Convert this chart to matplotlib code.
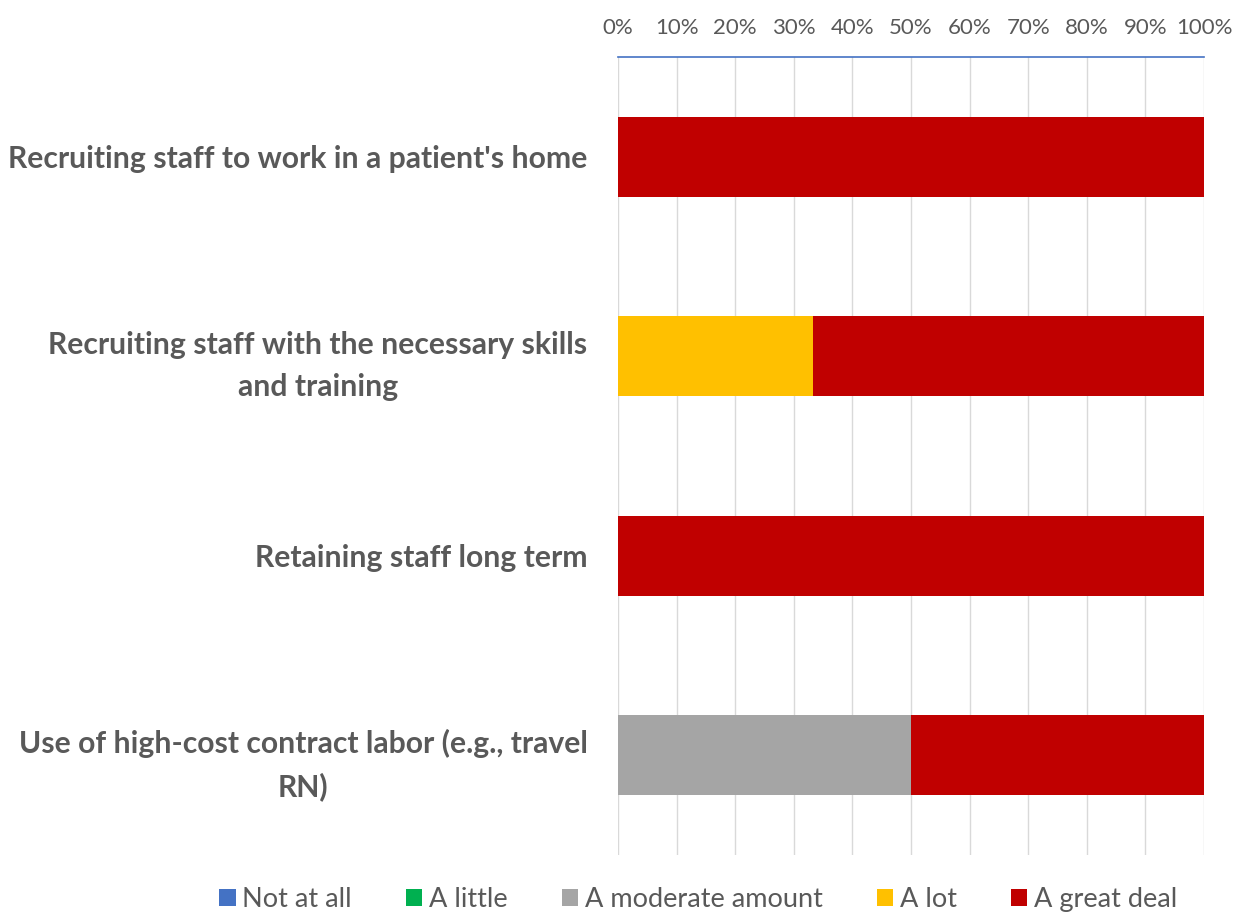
import numpy as np
import matplotlib.pyplot as plt

plt.rcParams['font.family'] = ['Lato', 'DejaVu Sans']

categories = ["Recruiting staff to work in a patient's home",
              "Recruiting staff with the necessary skills\nand training",
              "Retaining staff long term",
              "Use of high-cost contract labor (e.g., travel\nRN)"]
series = ['Not at all', 'A little', 'A moderate amount', 'A lot', 'A great deal']
values = {
    'Not at all':        [0, 0, 0, 0],
    'A little':          [0, 0, 0, 0],
    'A moderate amount': [0, 0, 0, 0.50],
    'A lot':             [0, 0.333, 0, 0],
    'A great deal':      [1.0, 0.667, 1.0, 0.50],
}
colors = ['#4472C4', '#00B050', '#A5A5A5', '#FFC000', '#C00000']

fig = plt.figure(figsize=(12.34, 9.16), dpi=100)
ax = fig.add_axes([0.5008, 0.0666, 0.4749, 0.8712])

y = np.arange(len(categories))
left = np.zeros(len(categories))
for name, c in zip(series, colors):
    v = np.array(values[name])
    ax.barh(y, v, left=left, height=0.4, color=c, label=name, zorder=3)
    left += v

ax.set_xlim(0, 1)
ax.set_ylim(3.5, -0.5)
ax.set_xticks(np.arange(0, 1.01, 0.1))
ax.set_xticklabels([f'{int(round(t*100))}%' for t in np.arange(0, 1.01, 0.1)])
ax.xaxis.tick_top()
ax.tick_params(axis='x', length=0, pad=14, labelsize=16, colors='#595959')
ax.set_yticks(y)
ax.set_yticklabels(categories, fontsize=21.7, fontweight='bold', color='#595959',
                   ha='right', multialignment='center', linespacing=1.6)
ax.tick_params(axis='y', length=0, pad=22)
ax.grid(axis='x', color='#D9D9D9', lw=1, zorder=0)
for s in ['left', 'right', 'bottom']:
    ax.spines[s].set_visible(False)
ax.spines['top'].set_color('#4472C4')
ax.spines['top'].set_linewidth(1.2)

fig.legend(loc='lower center', bbox_to_anchor=(0.566, -0.022), ncol=5, frameon=False,
           fontsize=19.5, handlelength=0.6, handleheight=0.6, handletextpad=0.25,
           columnspacing=2.0, labelcolor='#595959')

fig.savefig('out.png', dpi=100)
